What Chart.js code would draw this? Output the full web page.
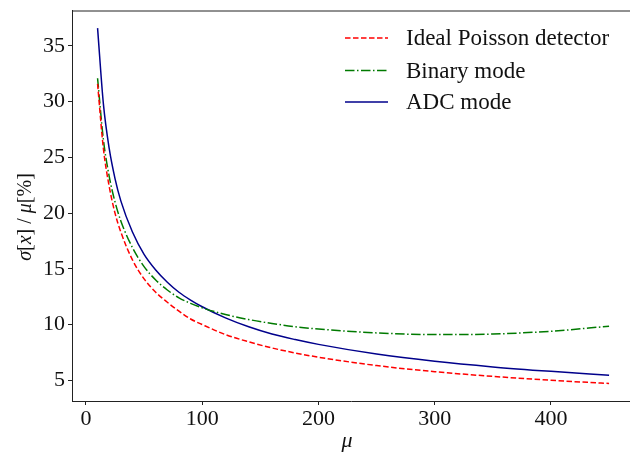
<!DOCTYPE html>
<html>
<head>
<meta charset="utf-8">
<script src="https://cdn.jsdelivr.net/npm/chart.js@4"></script>
<style>
  html, body { margin: 0; padding: 0; background: #fff; }
  #wrap { width: 630px; height: 455px; position: relative; }
</style>
</head>
<body>
<div id="wrap"><canvas id="chart"></canvas></div>
<script>
// values
const mu = [10, 15, 20, 25, 30, 40, 50, 60, 70, 80, 90, 100, 120, 140, 160, 180, 200, 250, 300, 350, 400, 450];
const poisson = [31.6, 25.8, 22.4, 20.0, 18.3, 15.8, 14.1, 12.9, 12.0, 11.2, 10.5, 10.0, 9.1, 8.45, 7.9, 7.45, 7.07, 6.32, 5.77, 5.35, 5.0, 4.71];
const binary = [32.1, 26.6, 23.3, 21.0, 19.3, 16.9, 15.2, 14.0, 13.1, 12.4, 11.9, 11.5, 10.9, 10.45, 10.1, 9.8, 9.6, 9.25, 9.1, 9.15, 9.4, 9.85];
const adc = [36.6, 29.8, 25.8, 23.1, 21.1, 18.3, 16.3, 14.9, 13.8, 12.9, 12.2, 11.6, 10.6, 9.8, 9.15, 8.65, 8.22, 7.35, 6.7, 6.2, 5.8, 5.45];
const seriesNames = ["Ideal Poisson detector", "Binary mode", "ADC mode"];
const xTicks = [0, 100, 200, 300, 400];
const yTicks = [5, 10, 15, 20, 25, 30, 35];

const FONT = "'Liberation Serif', 'DejaVu Serif', serif";
const TXT = "#111";

function pts(arr) {
    return mu.map((m, i) => ({ x: m, y: arr[i] }));
}

// top spine, legend and axis titles
const extras = {
    id: "extras",
    afterDraw(chart) {
        const ctx = chart.ctx;
        const area = chart.chartArea;

        ctx.save();
        ctx.strokeStyle = "#222";
        ctx.lineWidth = 1;
        ctx.beginPath();
        ctx.moveTo(area.left, area.top + 0.5);
        ctx.lineTo(630, area.top + 0.5);
        ctx.stroke();

        // legend
        const rows = [38, 70.5, 102];
        chart.data.datasets.forEach(function (ds, i) {
            ctx.strokeStyle = ds.borderColor;
            ctx.lineWidth = ds.borderWidth;
            ctx.setLineDash(ds.borderDash || []);
            ctx.beginPath();
            ctx.moveTo(345, rows[i]);
            ctx.lineTo(388, rows[i]);
            ctx.stroke();
            ctx.setLineDash([]);
            ctx.fillStyle = TXT;
            ctx.font = "23px " + FONT;
            ctx.textBaseline = "middle";
            ctx.textAlign = "left";
            ctx.fillText(ds.label, 406, rows[i] + 1);
        });

        // x title
        ctx.font = "italic 22px " + FONT;
        ctx.textAlign = "center";
        ctx.textBaseline = "middle";
        ctx.fillText("\u03bc", 347, 441);

        // y title with mixed styles
        const parts = [["\u03c3", "italic"], ["[", "normal"], ["x", "italic"], ["] / ", "normal"], ["\u03bc", "italic"], ["[%]", "normal"]];
        let total = 0;
        parts.forEach(function (p) {
            ctx.font = p[1] + " 20px " + FONT;
            total += ctx.measureText(p[0]).width;
        });
        ctx.translate(26, 217);
        ctx.rotate(-Math.PI / 2);
        let x = -total / 2;
        ctx.textAlign = "left";
        parts.forEach(function (p) {
            ctx.font = p[1] + " 20px " + FONT;
            ctx.fillText(p[0], x, 0);
            x += ctx.measureText(p[0]).width;
        });
        ctx.restore();
    }
};

new Chart(document.getElementById("chart"), {
    type: "line",
    data: {
        datasets: [
            { label: seriesNames[0], data: pts(poisson), borderColor: "#ff0000", borderDash: [5.5, 2.5], borderWidth: 1.5 },
            { label: seriesNames[1], data: pts(binary), borderColor: "#007a00", borderDash: [9.5, 2.5, 1.5, 2.5], borderWidth: 1.5 },
            { label: seriesNames[2], data: pts(adc), borderColor: "#00008b", borderWidth: 1.5 }
        ]
    },
    options: {
        responsive: true,
        maintainAspectRatio: false,
        animation: false,
        layout: { padding: { top: 10.5, right: 0, left: 0, bottom: 0 } },
        elements: {
            point: { radius: 0 },
            line: { cubicInterpolationMode: "monotone", fill: false }
        },
        plugins: {
            legend: { display: false },
            tooltip: { enabled: false }
        },
        scales: {
            x: {
                type: "linear",
                min: -12,
                max: 468,
                afterFit(axis) {
                    axis.height = 54;
                    axis.paddingLeft = 0;
                    axis.paddingRight = 0;
                },
                afterBuildTicks(axis) { axis.ticks = xTicks.map(v => ({ value: v })); },
                border: { display: true, color: "#222", width: 1 },
                grid: { display: true, drawOnChartArea: false, drawTicks: true, tickLength: 4, color: "#222" },
                ticks: { color: TXT, font: { family: FONT, size: 22 }, padding: 1 }
            },
            y: {
                type: "linear",
                min: 3.14,
                max: 38.18,
                afterFit(axis) {
                    axis.width = 72;
                    axis.paddingTop = 0;
                    axis.paddingBottom = 0;
                },
                afterBuildTicks(axis) { axis.ticks = yTicks.map(v => ({ value: v })); },
                border: { display: true, color: "#222", width: 1 },
                grid: { display: true, drawOnChartArea: false, drawTicks: true, tickLength: 4, color: "#222" },
                ticks: { color: TXT, font: { family: FONT, size: 22 }, padding: 3 }
            }
        }
    },
    plugins: [extras]
});
</script>
</body>
</html>
